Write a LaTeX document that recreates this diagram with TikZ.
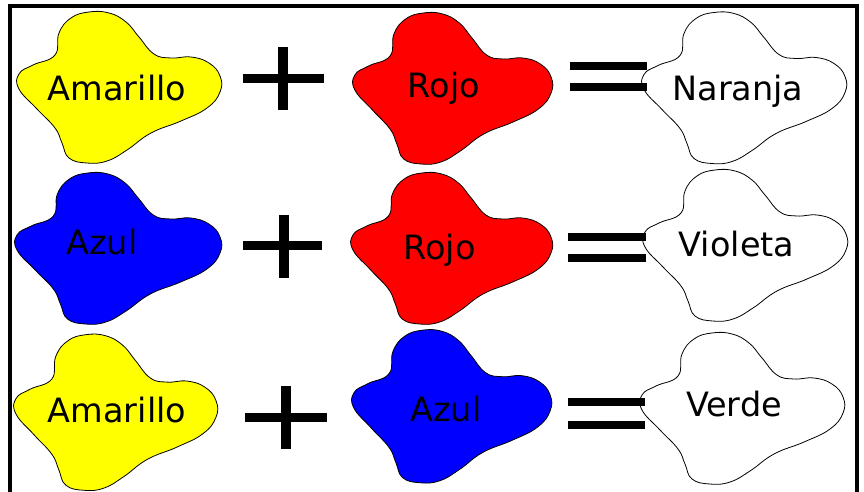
\documentclass[tikz,border=0pt]{standalone}
\usepackage{fontspec}
\setmainfont{DejaVu Sans}
\definecolor{byellow}{RGB}{255,255,0}
\definecolor{bred}{RGB}{255,0,0}
\definecolor{bblue}{RGB}{0,0,255}
\tikzset{
  blobline/.style={draw=black,line width=0.8pt},
  label/.style={anchor=base,inner sep=0pt,font=\fontsize{33.5}{33.5}\selectfont},
  bar/.style={fill=black,draw=none},
}
\newcommand\myblob[5]{%
  \begin{scope}[shift={(#1,#2)},xscale=#3,yscale=#4]
  \draw[blobline,fill=#5] plot[smooth cycle,tension=0.75] coordinates {
    (-64,-33) (-60,-55) (-48,-70) (-30,-76) (-10,-75) (7,-66) (20,-51)
    (35,-34) (52,-30) (72,-31) (90,-25) (101,-12) (101,4)
    (88,20) (62,33) (32,45) (8,62) (-12,73) (-32,75) (-50,70)
    (-57,55) (-64,40) (-82,21) (-100,1) (-100,-14) (-86,-23)};
  \end{scope}}
\newcommand\myplus[5]{%
  \fill[bar] (#1,#3) rectangle (#2,#3+9);
  \fill[bar] (#4,#5) rectangle (#4+10,#5+63);}
\newcommand\myequals[4]{%
  \fill[bar] (#1,#3) rectangle (#2,#3+8);
  \fill[bar] (#1,#4) rectangle (#2,#4+8);}
\begin{document}
\begin{tikzpicture}[x=1pt,y=-1pt]
\useasboundingbox (0,0) rectangle (864,491);
\fill[white] (0,0) rectangle (864,491);
% frame
\draw[line width=4pt,line join=miter] (10,495) -- (10,5.5) -- (856.5,5.5) -- (856.5,495);
% row 1
\myblob{119}{88}{1}{1}{byellow}
\myblob{452.5}{89}{0.976}{1}{bred}
\myblob{744}{88.5}{1}{1}{white}
% row 2
\myblob{118}{249}{1.01}{1}{bblue}
\myblob{451.5}{249}{0.985}{1}{bred}
\myblob{745}{246}{1}{1}{white}
% row 3
\myblob{115.5}{413}{0.995}{1.03}{byellow}
\myblob{451.5}{407}{0.976}{1.01}{bblue}
\myblob{742}{409}{1}{1}{white}
% operators
\myplus{243}{324}{74}{278}{47}
\myplus{243}{322}{241}{279}{215}
\myplus{245}{327}{413}{281}{386}
\myequals{570}{647}{62}{83}
\myequals{568}{646}{233}{254}
\myequals{568}{645}{398}{421}
% labels
\node[label] (t11) at (117,100) {Amarillo};
\node[label] (t12) at (444,97) {Rojo};
\node[label] (t13) at (738,100) {Naranja};
\node[label] (t21) at (102,254) {Azul};
\node[label] (t22) at (439.5,259) {Rojo};
\node[label] (t23) at (736.5,256) {Violeta};
\node[label] (t31) at (117,422) {Amarillo};
\node[label] (t32) at (446,421) {Azul};
\node[label] (t33) at (734,416) {Verde};
\end{tikzpicture}
\end{document}
